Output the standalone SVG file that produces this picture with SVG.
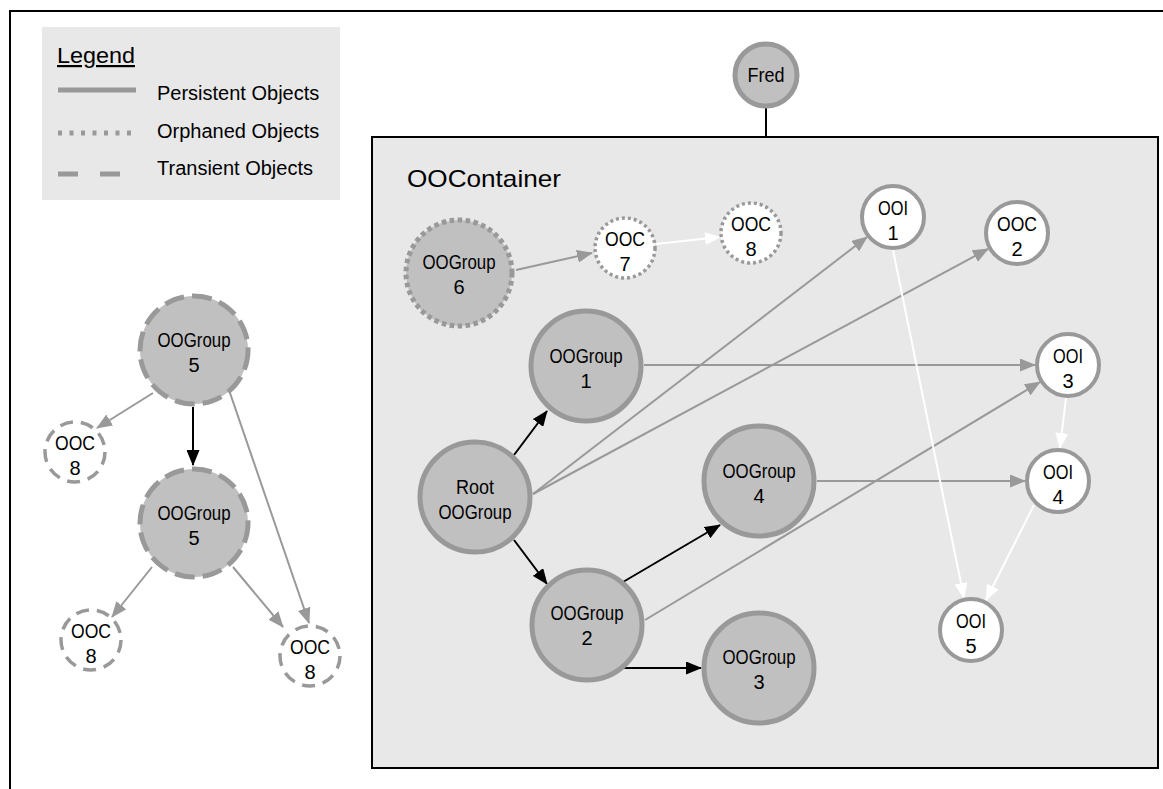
<svg xmlns="http://www.w3.org/2000/svg" width="1163" height="789" viewBox="0 0 1163 789">
<style>
text{font-family:"Liberation Sans",Arial,sans-serif;fill:#000}
.lbl{font-size:20px;text-anchor:middle}
.leg{font-size:20px}
.grp{fill:#c0c0c0;stroke:#999;stroke-width:5}
.obj{fill:#fff;stroke:#999;stroke-width:4}
.orphG{fill:#c0c0c0;stroke:#999;stroke-width:5;stroke-dasharray:4.5 3.5}
.orphO{fill:#fff;stroke:#999;stroke-width:3.5;stroke-dasharray:3 3}
.tranG{fill:#c0c0c0;stroke:#999;stroke-width:5;stroke-dasharray:20 8}
.tranO{fill:#fff;stroke:#999;stroke-width:3.5;stroke-dasharray:13 8}
.eg{stroke:#999;stroke-width:2;fill:none;marker-end:url(#ag)}
.eb{stroke:#000;stroke-width:2;fill:none;marker-end:url(#ab)}
.ew{stroke:#fff;stroke-width:2;fill:none;marker-end:url(#aw)}
</style>
<defs>
<marker id="ag" markerUnits="userSpaceOnUse" markerWidth="16" markerHeight="13" refX="15" refY="6.5" orient="auto"><path d="M0,0 L16,6.5 L0,13 z" fill="#999"/></marker>
<marker id="ab" markerUnits="userSpaceOnUse" markerWidth="16" markerHeight="13" refX="15" refY="6.5" orient="auto"><path d="M0,0 L16,6.5 L0,13 z" fill="#000"/></marker>
<marker id="aw" markerUnits="userSpaceOnUse" markerWidth="16" markerHeight="13" refX="15" refY="6.5" orient="auto"><path d="M0,0 L16,6.5 L0,13 z" fill="#fff"/></marker>
</defs>
<rect x="0" y="0" width="1163" height="789" fill="#fff"/>
<rect id="frame" x="10" y="11" width="1200" height="820" fill="none" stroke="#000" stroke-width="2"/>
<g id="legend">
<rect x="42" y="27" width="298" height="173" fill="#e8e8e8"/>
<text x="57" y="63" font-size="22" textLength="78" lengthAdjust="spacingAndGlyphs" text-decoration="underline">Legend</text>
<line x1="58" y1="90" x2="136" y2="90" stroke="#999" stroke-width="5"/>
<line x1="58" y1="133" x2="136" y2="133" stroke="#999" stroke-width="5" stroke-dasharray="4 7.5"/>
<line x1="58" y1="174" x2="123" y2="174" stroke="#999" stroke-width="5" stroke-dasharray="20 22"/>
<text class="leg" x="157" y="100">Persistent Objects</text>
<text class="leg" x="157" y="138">Orphaned Objects</text>
<text class="leg" x="157" y="175">Transient Objects</text>
</g>
<g id="container">
<rect x="372" y="137" width="786" height="631" fill="#e8e8e8" stroke="#000" stroke-width="2"/>
<text x="407" y="187" font-size="24" textLength="154" lengthAdjust="spacingAndGlyphs">OOContainer</text>
</g>
<g id="connectors">
<line x1="766" y1="108" x2="766" y2="137" stroke="#000" stroke-width="2"/>
<line class="eg" x1="516" y1="270" x2="592" y2="253"/>
<line class="ew" x1="656" y1="244" x2="720" y2="237"/>
<line class="eb" x1="514" y1="455" x2="547" y2="411"/>
<line class="eb" x1="514" y1="540" x2="547" y2="584"/>
<line class="eb" x1="623" y1="582" x2="720" y2="525"/>
<line class="eb" x1="623" y1="668" x2="701" y2="668"/>
<line class="eg" x1="533" y1="494" x2="867" y2="237"/>
<line class="eg" x1="533" y1="494" x2="988" y2="249"/>
<line class="eg" x1="644" y1="365" x2="1035" y2="365"/>
<line class="eg" x1="645" y1="620" x2="1040" y2="382"/>
<line class="eg" x1="817" y1="481" x2="1025" y2="481"/>
<line class="ew" x1="893" y1="250" x2="964" y2="598"/>
<line class="ew" x1="1066" y1="398" x2="1060" y2="448"/>
<line class="ew" x1="1034" y1="505" x2="986" y2="600"/>
<line class="eg" x1="153" y1="393" x2="97" y2="428"/>
<line class="eb" x1="193" y1="407" x2="193" y2="465"/>
<line class="eg" x1="230" y1="393" x2="309" y2="623"/>
<line class="eg" x1="152" y1="567" x2="112" y2="617"/>
<line class="eg" x1="233" y1="567" x2="283" y2="627"/>
</g>
<g id="fred"><circle class="grp" cx="766" cy="75" r="31"/><text class="lbl" x="766" y="82" textLength="37" lengthAdjust="spacingAndGlyphs">Fred</text></g>
<g id="oogroup6"><circle class="orphG" cx="459" cy="273" r="53"/><text class="lbl" x="459" y="269" textLength="73" lengthAdjust="spacingAndGlyphs">OOGroup</text><text class="lbl" x="459" y="294">6</text></g>
<g id="ooc7"><circle class="orphO" cx="625" cy="248" r="30"/><text class="lbl" x="625" y="246" textLength="40" lengthAdjust="spacingAndGlyphs">OOC</text><text class="lbl" x="625" y="271">7</text></g>
<g id="ooc8"><circle class="orphO" cx="751" cy="233" r="30"/><text class="lbl" x="751" y="231" textLength="40" lengthAdjust="spacingAndGlyphs">OOC</text><text class="lbl" x="751" y="256">8</text></g>
<g id="ooi1"><circle class="obj" cx="893" cy="217" r="31"/><text class="lbl" x="893" y="215" textLength="30" lengthAdjust="spacingAndGlyphs">OOI</text><text class="lbl" x="893" y="240">1</text></g>
<g id="ooc2"><circle class="obj" cx="1017" cy="233" r="31"/><text class="lbl" x="1017" y="231" textLength="40" lengthAdjust="spacingAndGlyphs">OOC</text><text class="lbl" x="1017" y="256">2</text></g>
<g id="oogroup1"><circle class="grp" cx="586" cy="366" r="55"/><text class="lbl" x="586" y="363" textLength="73" lengthAdjust="spacingAndGlyphs">OOGroup</text><text class="lbl" x="586" y="388">1</text></g>
<g id="ooi3"><circle class="obj" cx="1068" cy="365" r="31"/><text class="lbl" x="1068" y="363" textLength="30" lengthAdjust="spacingAndGlyphs">OOI</text><text class="lbl" x="1068" y="388">3</text></g>
<g id="root"><circle class="grp" cx="475" cy="497" r="55"/><text class="lbl" x="475" y="494" textLength="38" lengthAdjust="spacingAndGlyphs">Root</text><text class="lbl" x="475" y="519" textLength="73" lengthAdjust="spacingAndGlyphs">OOGroup</text></g>
<g id="oogroup4"><circle class="grp" cx="759" cy="481" r="55"/><text class="lbl" x="759" y="478" textLength="73" lengthAdjust="spacingAndGlyphs">OOGroup</text><text class="lbl" x="759" y="503">4</text></g>
<g id="ooi4"><circle class="obj" cx="1058" cy="481" r="31"/><text class="lbl" x="1058" y="479" textLength="30" lengthAdjust="spacingAndGlyphs">OOI</text><text class="lbl" x="1058" y="504">4</text></g>
<g id="oogroup2"><circle class="grp" cx="587" cy="625" r="55"/><text class="lbl" x="587" y="620" textLength="73" lengthAdjust="spacingAndGlyphs">OOGroup</text><text class="lbl" x="587" y="645">2</text></g>
<g id="oogroup3"><circle class="grp" cx="759" cy="668" r="55"/><text class="lbl" x="759" y="664" textLength="73" lengthAdjust="spacingAndGlyphs">OOGroup</text><text class="lbl" x="759" y="689">3</text></g>
<g id="ooi5"><circle class="obj" cx="971" cy="630" r="31"/><text class="lbl" x="971" y="628" textLength="30" lengthAdjust="spacingAndGlyphs">OOI</text><text class="lbl" x="971" y="653">5</text></g>
<g id="oogroup5a"><circle class="tranG" cx="194" cy="350" r="54"/><text class="lbl" x="194" y="347" textLength="73" lengthAdjust="spacingAndGlyphs">OOGroup</text><text class="lbl" x="194" y="372">5</text></g>
<g id="oogroup5b"><circle class="tranG" cx="194" cy="523" r="54"/><text class="lbl" x="194" y="520" textLength="73" lengthAdjust="spacingAndGlyphs">OOGroup</text><text class="lbl" x="194" y="545">5</text></g>
<g id="ooc8a"><circle class="tranO" cx="75" cy="452" r="30"/><text class="lbl" x="75" y="450" textLength="40" lengthAdjust="spacingAndGlyphs">OOC</text><text class="lbl" x="75" y="475">8</text></g>
<g id="ooc8b"><circle class="tranO" cx="91" cy="640" r="30"/><text class="lbl" x="91" y="638" textLength="40" lengthAdjust="spacingAndGlyphs">OOC</text><text class="lbl" x="91" y="663">8</text></g>
<g id="ooc8c"><circle class="tranO" cx="310" cy="656" r="30"/><text class="lbl" x="310" y="654" textLength="40" lengthAdjust="spacingAndGlyphs">OOC</text><text class="lbl" x="310" y="679">8</text></g>
</svg>
